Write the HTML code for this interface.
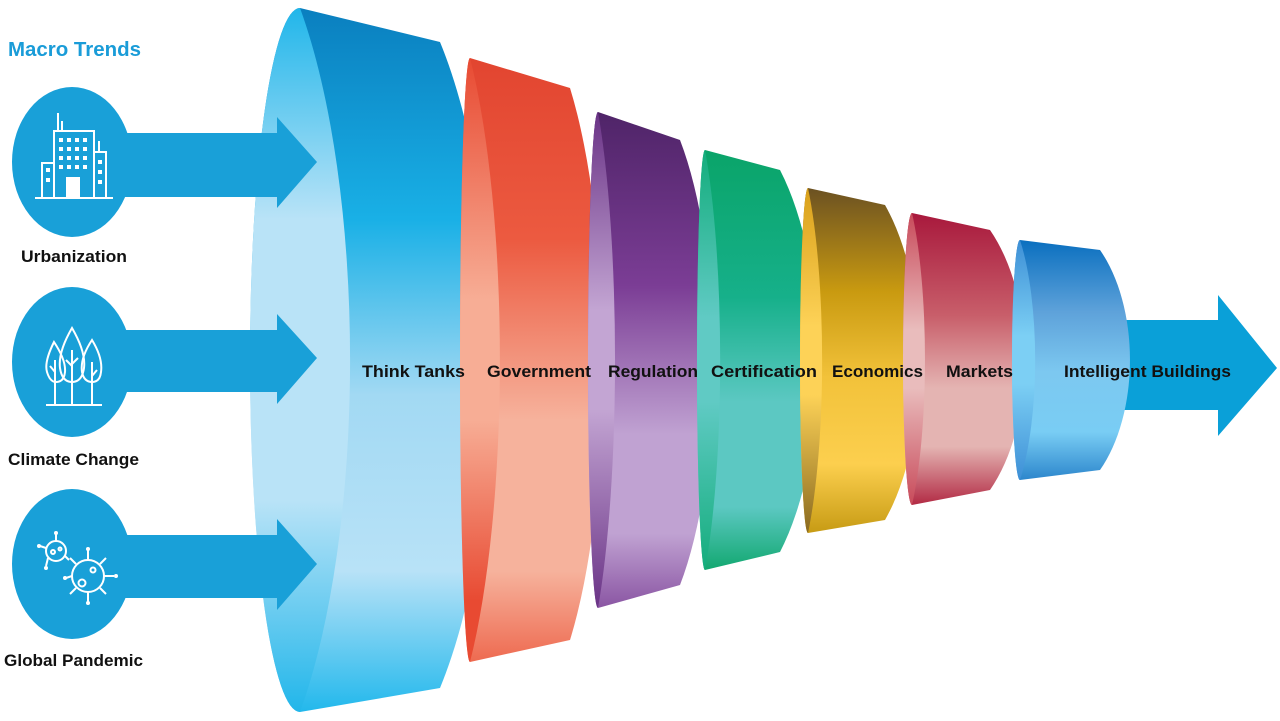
<!DOCTYPE html>
<html><head><meta charset="utf-8"><style>
html,body{margin:0;padding:0;background:#fff;width:1280px;height:721px;overflow:hidden}
svg{display:block}
text{font-family:"Liberation Sans",sans-serif;font-weight:bold}
</style></head><body>
<svg width="1280" height="721" viewBox="0 0 1280 721" xmlns="http://www.w3.org/2000/svg">
<defs>
<linearGradient id="b1" x1="0" y1="0" x2="0" y2="1"><stop offset="0" stop-color="#0a7fbf"/><stop offset=".3" stop-color="#19b0e6"/><stop offset=".55" stop-color="#a2d9f3"/><stop offset=".8" stop-color="#b8e2f7"/><stop offset="1" stop-color="#22b8ec"/></linearGradient>
<linearGradient id="r1" x1="0" y1="0" x2="0" y2="1"><stop offset="0" stop-color="#21b6ea"/><stop offset=".3" stop-color="#b9e3f7"/><stop offset=".7" stop-color="#b9e3f7"/><stop offset="1" stop-color="#21b6ea"/></linearGradient>
<linearGradient id="b2" x1="0" y1="0" x2="0" y2="1"><stop offset="0" stop-color="#e24530"/><stop offset=".3" stop-color="#ec5a40"/><stop offset=".6" stop-color="#f6b29c"/><stop offset=".85" stop-color="#f6b29c"/><stop offset="1" stop-color="#ee6a50"/></linearGradient>
<linearGradient id="r2" x1="0" y1="0" x2="0" y2="1"><stop offset="0" stop-color="#e84a32"/><stop offset=".4" stop-color="#f7ad95"/><stop offset=".6" stop-color="#f7ad95"/><stop offset=".9" stop-color="#e84a32"/></linearGradient>
<linearGradient id="b3" x1="0" y1="0" x2="0" y2="1"><stop offset="0" stop-color="#4f2468"/><stop offset=".35" stop-color="#7b3d95"/><stop offset=".65" stop-color="#c0a2d2"/><stop offset=".85" stop-color="#c0a2d2"/><stop offset="1" stop-color="#8a55a3"/></linearGradient>
<linearGradient id="r3" x1="0" y1="0" x2="0" y2="1"><stop offset="0" stop-color="#6a3386"/><stop offset=".4" stop-color="#c3a5d3"/><stop offset=".6" stop-color="#c3a5d3"/><stop offset="1" stop-color="#6a3386"/></linearGradient>
<linearGradient id="b4" x1="0" y1="0" x2="0" y2="1"><stop offset="0" stop-color="#0aa469"/><stop offset=".35" stop-color="#16b08a"/><stop offset=".6" stop-color="#5cc8c2"/><stop offset=".85" stop-color="#5cc8c2"/><stop offset="1" stop-color="#12a870"/></linearGradient>
<linearGradient id="r4" x1="0" y1="0" x2="0" y2="1"><stop offset="0" stop-color="#14ad7c"/><stop offset=".4" stop-color="#60cac4"/><stop offset=".6" stop-color="#60cac4"/><stop offset="1" stop-color="#14ad7c"/></linearGradient>
<linearGradient id="b5" x1="0" y1="0" x2="0" y2="1"><stop offset="0" stop-color="#6b5122"/><stop offset=".3" stop-color="#c99a10"/><stop offset=".55" stop-color="#f2c23a"/><stop offset=".8" stop-color="#fccf4e"/><stop offset="1" stop-color="#c79b14"/></linearGradient>
<linearGradient id="r5" x1="0" y1="0" x2="0" y2="1"><stop offset="0" stop-color="#d9a01a"/><stop offset=".4" stop-color="#fdd257"/><stop offset=".6" stop-color="#fdd257"/><stop offset="1" stop-color="#8a6a20"/></linearGradient>
<linearGradient id="b6" x1="0" y1="0" x2="0" y2="1"><stop offset="0" stop-color="#a8183c"/><stop offset=".35" stop-color="#c85e6a"/><stop offset=".6" stop-color="#e4b4b2"/><stop offset=".8" stop-color="#e4b4b2"/><stop offset="1" stop-color="#b22a44"/></linearGradient>
<linearGradient id="r6" x1="0" y1="0" x2="0" y2="1"><stop offset="0" stop-color="#c84a5a"/><stop offset=".4" stop-color="#e9bcbc"/><stop offset=".6" stop-color="#e9bcbc"/><stop offset="1" stop-color="#c84a5a"/></linearGradient>
<linearGradient id="b7" x1="0" y1="0" x2="0" y2="1"><stop offset="0" stop-color="#0a6fbf"/><stop offset=".3" stop-color="#5ea2da"/><stop offset=".55" stop-color="#7cc8f0"/><stop offset=".8" stop-color="#79cdf4"/><stop offset="1" stop-color="#2c86cc"/></linearGradient>
<linearGradient id="r7" x1="0" y1="0" x2="0" y2="1"><stop offset="0" stop-color="#3d8fd6"/><stop offset=".4" stop-color="#7ccff4"/><stop offset=".6" stop-color="#7ccff4"/><stop offset="1" stop-color="#3d8fd6"/></linearGradient>
</defs>

<!-- right output arrow -->
<path d="M1110,320 L1218,320 L1218,295 L1277,368 L1218,436 L1218,410 L1110,410 Z" fill="#0aa0d8"/>

<!-- segments -->
<path d="M300,8 L440,42 A144 420 0 0 1 440,688 L300,712 A50 352 0 0 1 300,8 Z" fill="url(#b1)"/>
<path d="M300,8 A50 352 0 0 0 300,712 A139 458 0 0 0 300,8 Z" fill="url(#r1)"/>

<path d="M470,58 L570,88 A92 359 0 0 1 570,640 L470,662 A10 302 0 0 1 470,58 Z" fill="url(#b2)"/>
<path d="M470,58 A10 302 0 0 0 470,662 A83 393 0 0 0 470,58 Z" fill="url(#r2)"/>

<path d="M598,112 L680,140 A92 289 0 0 1 680,585 L598,608 A10 248 0 0 1 598,112 Z" fill="url(#b3)"/>
<path d="M598,112 A10 248 0 0 0 598,608 A47 322 0 0 0 598,112 Z" fill="url(#r3)"/>

<path d="M705,150 L780,170 A106 248 0 0 1 780,552 L705,570 A8 210 0 0 1 705,150 Z" fill="url(#b4)"/>
<path d="M705,150 A8 210 0 0 0 705,570 A42 273 0 0 0 705,150 Z" fill="url(#r4)"/>

<path d="M808,188 L885,205 A97 205 0 0 1 885,520 L808,533 A8 172.5 0 0 1 808,188 Z" fill="url(#b5)"/>
<path d="M808,188 A8 172.5 0 0 0 808,533 A39 224 0 0 0 808,188 Z" fill="url(#r5)"/>

<path d="M912,213 L990,230 A97 169 0 0 1 990,490 L912,505 A9 146 0 0 1 912,213 Z" fill="url(#b6)"/>
<path d="M912,213 A9 146 0 0 0 912,505 A36 190 0 0 0 912,213 Z" fill="url(#r6)"/>

<path d="M1020,240 L1100,250 A83 143 0 0 1 1100,470 L1020,480 A8 120 0 0 1 1020,240 Z" fill="url(#b7)"/>
<path d="M1020,240 A8 120 0 0 0 1020,480 A42 156 0 0 0 1020,240 Z" fill="url(#r7)"/>

<!-- left arrows & circles -->
<g fill="#19a0d8">
<ellipse cx="72" cy="162" rx="60" ry="75"/>
<path d="M100,133 L277,133 L277,117 L317,162 L277,208 L277,197 L100,197 Z"/>
<ellipse cx="72" cy="362" rx="60" ry="75"/>
<path d="M100,330 L277,330 L277,314 L317,358 L277,404 L277,392 L100,392 Z"/>
<ellipse cx="72" cy="564" rx="60" ry="75"/>
<path d="M100,535 L277,535 L277,519 L317,564 L277,610 L277,598 L100,598 Z"/>
</g>

<!-- icons -->
<g fill="none" stroke="#fff" stroke-width="2">
<line x1="35" y1="198" x2="113" y2="198"/>
<rect x="54" y="131" width="40" height="67"/>
<rect x="42" y="163" width="12" height="35"/>
<rect x="94" y="152" width="12" height="46"/>
<line x1="58" y1="113" x2="58" y2="131"/><line x1="62" y1="121" x2="62" y2="131"/>
<line x1="99" y1="141" x2="99" y2="152"/>
<rect x="67" y="178" width="12" height="20" fill="#fff"/>
</g>
<g fill="#fff">
<rect x="59" y="138" width="4" height="4"/><rect x="67" y="138" width="4" height="4"/><rect x="75" y="138" width="4" height="4"/><rect x="83" y="138" width="4" height="4"/>
<rect x="59" y="147" width="4" height="4"/><rect x="67" y="147" width="4" height="4"/><rect x="75" y="147" width="4" height="4"/><rect x="83" y="147" width="4" height="4"/>
<rect x="59" y="156" width="4" height="4"/><rect x="67" y="156" width="4" height="4"/><rect x="75" y="156" width="4" height="4"/><rect x="83" y="156" width="4" height="4"/>
<rect x="59" y="165" width="4" height="4"/><rect x="67" y="165" width="4" height="4"/><rect x="75" y="165" width="4" height="4"/><rect x="83" y="165" width="4" height="4"/>
<rect x="46" y="168" width="4" height="4"/><rect x="46" y="178" width="4" height="4"/><rect x="98" y="160" width="4" height="4"/><rect x="98" y="170" width="4" height="4"/><rect x="98" y="180" width="4" height="4"/>
</g>
<g fill="none" stroke="#fff" stroke-width="2">
<line x1="46" y1="405" x2="102" y2="405"/>
<path d="M54,342 Q44,362 47,372 Q50,382 56,382 Q64,382 65,372 Q66,360 54,342 Z"/>
<path d="M72,328 Q58,352 60,368 Q62,382 72,382 Q82,382 84,368 Q86,352 72,328 Z"/>
<path d="M92,340 Q80,358 82,372 Q84,382 92,382 Q100,382 101,372 Q103,358 92,340 Z"/>
<line x1="55" y1="360" x2="55" y2="405"/><line x1="72" y1="350" x2="72" y2="405"/><line x1="92" y1="362" x2="92" y2="405"/>
<path d="M55,372 L50,366 M72,366 L66,360 M72,364 L78,358 M92,376 L97,370"/>
</g>
<g fill="none" stroke="#fff" stroke-width="2">
<circle cx="56" cy="551" r="10"/>
<circle cx="88" cy="576" r="16"/>
<circle cx="53" cy="552" r="2"/><circle cx="60" cy="549" r="1.5"/>
<circle cx="93" cy="570" r="2.5"/><circle cx="82" cy="583" r="3.5"/>
<path d="M56,541 L56,534 M46,548 L40,546 M48,558 L46,566 M65,556 L69,560 M88,560 L88,550 M88,592 L88,602 M72,576 L66,578 M104,576 L114,576 M76,564 L70,558 M100,564 L106,558 M76,588 L70,594 M100,588 L106,594"/>
</g>
<g fill="#fff"><circle cx="56" cy="533" r="2"/><circle cx="39" cy="546" r="2"/><circle cx="46" cy="568" r="2"/><circle cx="88" cy="549" r="2"/><circle cx="88" cy="603" r="2"/><circle cx="65" cy="578" r="2"/><circle cx="116" cy="576" r="2"/></g>

<!-- labels -->
<text x="8" y="56" font-size="20" fill="#1a9cd8" textLength="133" lengthAdjust="spacingAndGlyphs">Macro Trends</text>
<g font-size="17" fill="#111">
<text x="21" y="262" textLength="106" lengthAdjust="spacingAndGlyphs">Urbanization</text>
<text x="8" y="465" textLength="131" lengthAdjust="spacingAndGlyphs">Climate Change</text>
<text x="4" y="666" textLength="139" lengthAdjust="spacingAndGlyphs">Global Pandemic</text>
<text x="362" y="377" textLength="103" lengthAdjust="spacingAndGlyphs">Think Tanks</text>
<text x="487" y="377" textLength="104" lengthAdjust="spacingAndGlyphs">Government</text>
<text x="608" y="377" textLength="90" lengthAdjust="spacingAndGlyphs">Regulation</text>
<text x="711" y="377" textLength="106" lengthAdjust="spacingAndGlyphs">Certification</text>
<text x="832" y="377" textLength="91" lengthAdjust="spacingAndGlyphs">Economics</text>
<text x="946" y="377" textLength="67" lengthAdjust="spacingAndGlyphs">Markets</text>
<text x="1064" y="377" textLength="167" lengthAdjust="spacingAndGlyphs">Intelligent Buildings</text>
</g>
</svg>
</body></html>
